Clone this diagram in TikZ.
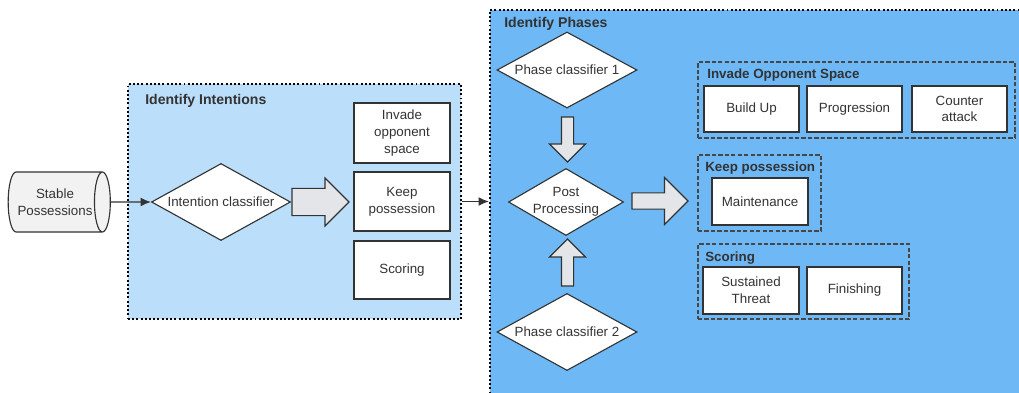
\documentclass[tikz,border=0pt]{standalone}
\usepackage{fontspec}
\setmainfont{Liberation Sans}
\usepackage{xcolor}
\usepackage{tikz}
\usetikzlibrary{shapes.misc, shapes.geometric, shapes.arrows, positioning, arrows.meta}
\definecolor{inkgray}{HTML}{333333}
\definecolor{lightblue}{HTML}{BBDEFB}
\definecolor{midblue}{HTML}{6DB8F5}
\definecolor{arrowgray}{HTML}{E3E5E8}
\definecolor{cylgray}{HTML}{F2F2F2}
\tikzset{
  container/.style={draw=black, line width=1.4pt, dash pattern=on 1.4pt off 1.6pt, inner sep=0pt},
  group/.style={draw=inkgray!90, line width=0.8pt, dash pattern=on 3pt off 1.6pt, inner sep=0pt},
  title/.style={anchor=west, font=\fontsize{10}{12}\selectfont\bfseries, text=inkgray, inner sep=0pt},
  grouptitle/.style={title, font=\fontsize{9.5}{12}\selectfont\bfseries},
  txt/.style={font=\fontsize{9.5}{11.8}\selectfont, text=inkgray, align=center},
  labelbox/.style={txt, draw=inkgray, line width=1pt, fill=white, minimum width=2.4cm, minimum height=1.15cm, inner sep=1pt},
  dia/.style={diamond, draw=inkgray, line width=0.8pt, fill=white, inner sep=0pt},
  blockarrow/.style={single arrow, draw=inkgray, line width=0.8pt, fill=arrowgray, inner xsep=0pt, outer sep=0pt, anchor=tail},
}
\begin{document}
\begin{tikzpicture}[x=0.025cm, y=-0.025cm]
	\useasboundingbox (0,0) rectangle (1019,393);
	\clip (0,0) rectangle (1019,393);
	% the two stages
	\node[container, fill=lightblue, minimum width=8.325cm, minimum height=5.875cm] at (294.5,201.5) (intent) {};
	\node[container, fill=midblue, minimum width=13.5cm, minimum height=9.75cm] at (760,205) (phases) {};
	\node[title] at (145,101) (intenttitle) {Identify Intentions};
	\node[title] at (504,24) (phasetitle) {Identify Phases};
	% input
	\node[cylinder, draw=inkgray, line width=0.8pt, fill=cylgray, shape aspect=0.6, minimum width=1.5cm, inner ysep=0pt, inner xsep=1pt, txt] at (55,202) (stable) {Stable\\Possessions};
	% intentions
	\node[dia, minimum width=3.475cm, minimum height=1.925cm, label={[txt]center:Intention classifier}] at (221,202) (intclass) {};
	\node[blockarrow, minimum height=1.425cm, minimum width=1.175cm, inner ysep=0.325cm, single arrow head extend=0.2625cm] at (292,202) (intarrow) {};
	\node[labelbox, minimum height=1.5cm] at (402,133) (invade) {Invade\\opponent\\space};
	\node[labelbox, minimum height=1.475cm] at (402,201.5) (keep) {Keep\\possession};
	\node[labelbox, minimum height=1.45cm] at (402,270) (scoring) {Scoring};
	% phases
	\node[dia, minimum width=3.5cm, minimum height=1.9cm, label={[txt]center:Phase classifier 1}] at (567,70) (phaseone) {};
	\node[dia, minimum width=2.875cm, minimum height=1.675cm, label={[txt]center:Post\\Processing}] at (566,202) (post) {};
	\node[dia, minimum width=3.5cm, minimum height=1.925cm, label={[txt]center:Phase classifier 2}] at (567,332) (phasetwo) {};
	\node[blockarrow, rotate=-90, minimum height=1.125cm, minimum width=0.875cm, inner ysep=0.1375cm, single arrow head extend=0.3cm] at (567.5,117) (downarrow) {};
	\node[blockarrow, rotate=90, minimum height=1.175cm, minimum width=0.875cm, inner ysep=0.1375cm, single arrow head extend=0.3cm] at (567.5,286) (uparrow) {};
	\node[blockarrow, minimum height=1.4cm, minimum width=1.15cm, inner ysep=0.1875cm, single arrow head extend=0.3875cm] at (632,201) (phasearrow) {};
	% phase groups
	\node[group, minimum width=7.925cm, minimum height=1.9cm] at (856.5,100) (invadegroup) {};
	\node[grouptitle] at (707,75) {Invade Opponent Space};
	\node[labelbox, minimum width=2.375cm] at (751.5,109) (buildup) {Build Up};
	\node[labelbox, minimum width=2.375cm] at (854.5,109) (progression) {Progression};
	\node[labelbox, minimum width=2.375cm] at (959.5,109) (counter) {Counter\\attack};
	\node[group, minimum width=3.075cm, minimum height=1.9cm] at (759.5,193) (keepgroup) {};
	\node[grouptitle] at (705,168) {Keep possession};
	\node[labelbox, minimum width=2.4cm, minimum height=1.175cm] at (760,201.5) (maintenance) {Maintenance};
	\node[group, minimum width=5.275cm, minimum height=1.875cm] at (803.5,281.5) (scoringgroup) {};
	\node[grouptitle] at (705,258) {Scoring};
	\node[labelbox, minimum width=2.4cm, minimum height=1.175cm] at (751,290.5) (sustained) {Sustained\\Threat};
	\node[labelbox, minimum width=2.375cm, minimum height=1.175cm] at (854.5,290.5) (finishing) {Finishing};
	% flow
	\draw[-{Latex[length=2.6mm, width=2.2mm]}, line width=0.8pt, draw=inkgray] (stable) -- (intclass);
	\draw[-{Latex[length=2.6mm, width=2.2mm]}, line width=0.8pt, draw=inkgray] (intent.east) -- (intent.east -| phases.west);
\end{tikzpicture}
\end{document}
